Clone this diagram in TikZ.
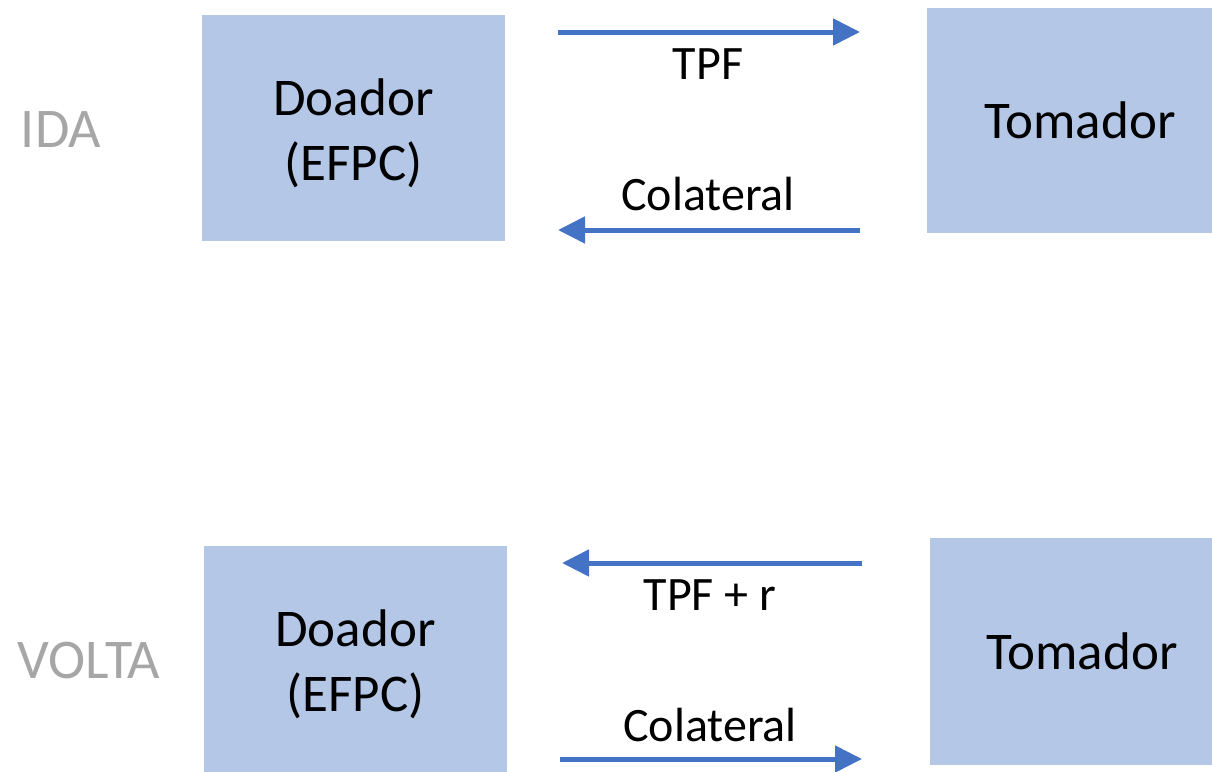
\documentclass[tikz,border=0pt]{standalone}
\usepackage{fontspec}
\setmainfont{Carlito}
\usetikzlibrary{arrows.meta}
\definecolor{boxfill}{HTML}{B4C7E7}
\definecolor{flow}{HTML}{4472C4}
\definecolor{phase}{HTML}{A6A6A6}

\begin{document}
\begin{tikzpicture}[x=1pt,y=-1pt,
  party/.style={fill=boxfill, draw=none, inner sep=0pt, align=center,
                font=\fontsize{53}{65}\selectfont},
  partytext/.style={inner sep=0pt, align=center, font=\fontsize{53}{65}\selectfont},
  flowarrow/.style={draw=flow, line width=5pt,
                    -{Triangle[length=27pt,width=26pt]}},
  flowlabel/.style={font=\fontsize{48}{56}\selectfont, anchor=base},
  phaselabel/.style={text=phase, font=\fontsize{56}{64}\selectfont, anchor=base}]
\clip (0,0) rectangle (1212,771);

% --- IDA (outgoing leg) ---
\node[phaselabel] (ida) at (61,147) {IDA};
\node[party, minimum width=303pt, minimum height=226pt] (doadorIda) at (353.5,128) {};
\node[partytext] (doadorIdaTxt) at ([yshift=-5pt]doadorIda.center) {Doador\\(EFPC)};
\node[party, minimum width=306pt, minimum height=225pt] (tomadorIda) at (1080,120.5) {Tomador};

\coordinate (a1s) at (558,32);  \coordinate (a1e) at (860,32);
\coordinate (a2s) at (860,230); \coordinate (a2e) at (558,230);
\draw[flowarrow] (a1s) -- (a1e);
\draw[flowarrow] (a2s) -- (a2e);
\node[flowlabel] (tpfIda) at (708,79) {TPF};
\node[flowlabel] (colIda) at (708,210) {Colateral};

% --- VOLTA (return leg) ---
\node[phaselabel] (volta) at (89,678) {VOLTA};
\node[party, minimum width=303pt, minimum height=226pt] (doadorVolta) at (355.5,659) {};
\node[partytext] (doadorVoltaTxt) at ([yshift=-5pt]doadorVolta.center) {Doador\\(EFPC)};
\node[party, minimum width=304pt, minimum height=227pt] (tomadorVolta) at (1082,651.5) {Tomador};

\coordinate (a3s) at (862,563); \coordinate (a3e) at (562,563);
\coordinate (a4s) at (560,759); \coordinate (a4e) at (862,759);
\draw[flowarrow] (a3s) -- (a3e);
\draw[flowarrow] (a4s) -- (a4e);
\node[flowlabel] (tpfVolta) at (710,610) {TPF + r};
\node[flowlabel] (colVolta) at (710,741) {Colateral};
\end{tikzpicture}
\end{document}
